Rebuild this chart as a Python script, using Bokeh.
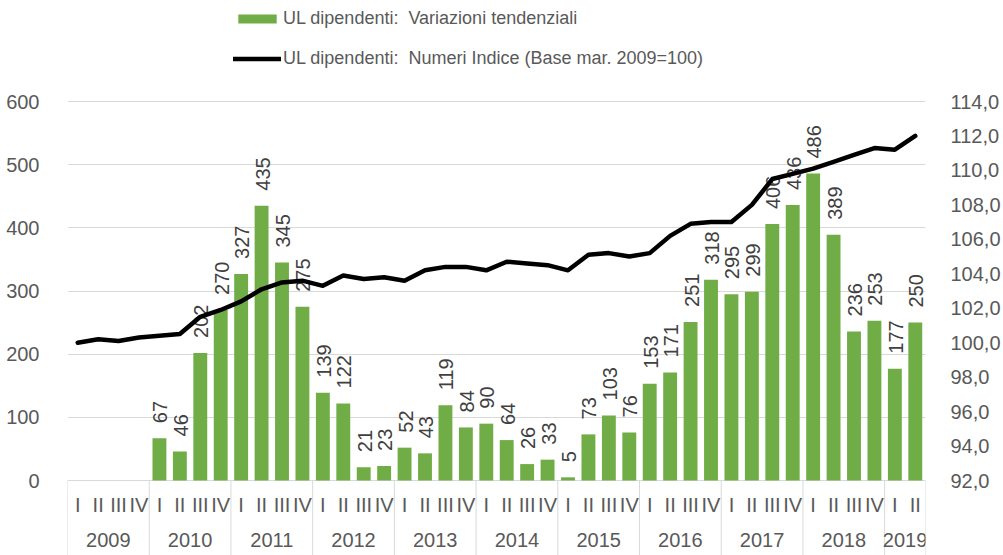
import numpy as np
from bokeh.plotting import figure
from bokeh.models import (FactorRange, Range1d, LinearAxis, FixedTicker, CustomJSTickFormatter,
                          ColumnDataSource, Legend, LegendItem)
from bokeh.core.properties import value
from bokeh.embed import file_html
from bokeh.resources import INLINE

years = ["2009", "2010", "2011", "2012", "2013", "2014", "2015", "2016", "2017", "2018", "2019"]
quarters = ["I", "II", "III", "IV"]
quarters_per_year = [4, 4, 4, 4, 4, 4, 4, 4, 4, 4, 2]

variazioni = [None, None, None, None,
              67, 46, 202, 270,
              327, 435, 345, 275,
              139, 122, 21, 23,
              52, 43, 119, 84,
              90, 64, 26, 33,
              5, 73, 103, 76,
              153, 171, 251, 318,
              295, 299, 406, 436,
              486, 389, 236, 253,
              177, 250]

indice = [100.0, 100.2, 100.1, 100.3,
          100.4, 100.5, 101.5, 101.9,
          102.4, 103.1, 103.5, 103.6,
          103.3, 103.9, 103.7, 103.8,
          103.6, 104.2, 104.4, 104.4,
          104.2, 104.7, 104.6, 104.5,
          104.2, 105.1, 105.2, 105.0,
          105.2, 106.2, 106.9, 107.0,
          107.0, 108.0, 109.5, 109.8,
          110.1, 110.5, 110.9, 111.3,
          111.2, 112.0]

left_ticks = [0, 100, 200, 300, 400, 500, 600]
right_ticks = [92, 94, 96, 98, 100, 102, 104, 106, 108, 110, 112, 114]

label_bar = "UL dipendenti:  Variazioni tendenziali"
label_line = "UL dipendenti:  Numeri Indice (Base mar. 2009=100)"

FONT = "Liberation Sans"
GREEN = "#70AD47"
TXT = "#595959"
GRID = "#d9d9d9"

# ---- layout (pixels) ----
W, H = 1003, 555
FRAME_L, FRAME_R = 67, 929
Y_TOP_PX, Y_ZERO_PX = 101, 480       # pixel rows of the top tick and the zero line

def stretched(lo, hi):
    ppu = (Y_ZERO_PX - Y_TOP_PX) / (hi - lo)
    return lo - (H - Y_ZERO_PX) / ppu, hi + Y_TOP_PX / ppu

L_LO, L_HI = stretched(left_ticks[0], left_ticks[-1])
R_LO, R_HI = stretched(right_ticks[0], right_ticks[-1])

factors = [(y, q) for y, n in zip(years, quarters_per_year) for q in quarters[:n]]

bx, bt, bl = [], [], []
for f, v in zip(factors, variazioni):
    if v is not None:
        bx.append(f)
        bt.append(v)
        bl.append(str(v))
bar_src = ColumnDataSource(dict(x=bx, top=bt, label=bl))
line_src = ColumnDataSource(dict(x=factors, y=indice))

p = figure(width=W, height=H,
           x_range=FactorRange(*factors, factor_padding=0, group_padding=0, range_padding=0),
           y_range=Range1d(L_LO, L_HI), x_axis_location=None,
           output_backend="svg", toolbar_location=None,
           min_border_left=FRAME_L, min_border_right=W - FRAME_R, min_border_top=0, min_border_bottom=0)
p.extra_y_ranges = {"idx": Range1d(R_LO, R_HI)}
p.outline_line_color = None
p.background_fill_color = None
p.border_fill_color = "white"

p.xgrid.grid_line_color = None
p.ygrid.ticker = FixedTicker(ticks=left_ticks)
p.ygrid.grid_line_color = GRID

# category axis: separators, quarter labels, year labels
bounds = np.concatenate([[0], np.cumsum(quarters_per_year)])
p.segment(x0=bounds, y0=0, x1=bounds, y1=L_LO, line_color=GRID, line_width=1)
p.text(x=factors, y=[0] * len(factors), text=[f[1] for f in factors], y_offset=24,
       text_align="center", text_baseline="middle",
       text_font=value(FONT), text_font_size="20px", text_color=TXT)
p.text(x=years, y=[0] * len(years), text=years, y_offset=59,
       text_align="center", text_baseline="middle",
       text_font=value(FONT), text_font_size="20px", text_color=TXT)

bars = p.vbar(x="x", top="top", width=0.68, source=bar_src, fill_color=GREEN, line_color=None)
p.text(x="x", y="top", text="label", source=bar_src, angle=np.pi / 2,
       text_align="left", text_baseline="middle", y_offset=-15, x_offset=1,
       text_font=value(FONT), text_font_size="20px", text_color="#404040")
ln = p.line(x="x", y="y", source=line_src, y_range_name="idx",
            line_color="black", line_width=4.5, line_join="round", line_cap="round")

# left axis
p.yaxis.ticker = FixedTicker(ticks=left_ticks)
p.yaxis.axis_line_color = None
p.yaxis.major_tick_line_color = None
p.yaxis.minor_tick_line_color = None
p.yaxis.major_label_standoff = 22
p.yaxis.major_label_text_font = FONT
p.yaxis.major_label_text_font_size = "20px"
p.yaxis.major_label_text_color = TXT

ra = LinearAxis(y_range_name="idx", ticker=FixedTicker(ticks=right_ticks),
                formatter=CustomJSTickFormatter(code="return tick.toFixed(1).replace('.', ',');"))
ra.axis_line_color = None
ra.major_tick_line_color = None
ra.minor_tick_line_color = None
ra.major_label_standoff = 19
ra.major_label_text_font = FONT
ra.major_label_text_font_size = "20px"
ra.major_label_text_color = TXT
p.add_layout(ra, "right")

legend = Legend(items=[LegendItem(label=label_bar, renderers=[bars]),
                       LegendItem(label=label_line, renderers=[ln])],
                location=(166, H - 69), orientation="vertical", spacing=19, padding=0, margin=0,
                border_line_color=None, background_fill_alpha=0,
                label_text_font=FONT, label_text_font_size="18px", label_text_color=TXT,
                glyph_width=48, glyph_height=11, label_standoff=2, label_height=20)
p.add_layout(legend)

open("out.html", "w").write(file_html(p, INLINE))
